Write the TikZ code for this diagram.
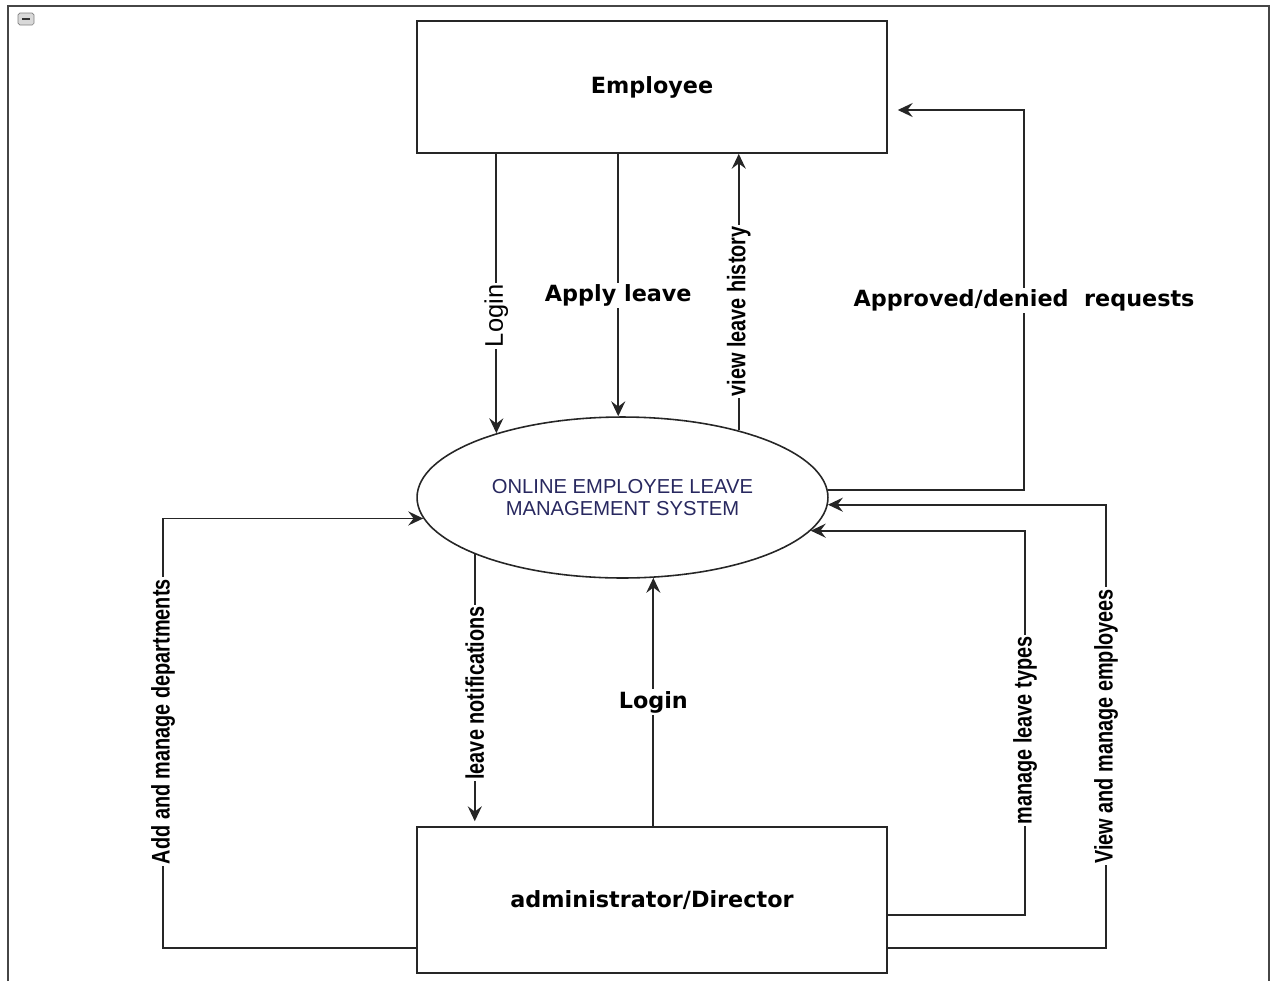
\documentclass[tikz,border=0pt]{standalone}
\usepackage{fontspec}
\setmainfont{Liberation Sans}
\newfontfamily\lblfont{DejaVu Sans}
\newfontfamily\narrowfont[FakeStretch=0.78]{Liberation Sans}
\usepackage{tikz}
\usetikzlibrary{arrows.meta,shapes.geometric}
\definecolor{systext}{RGB}{40,40,95}
\definecolor{framegray}{RGB}{70,70,70}

\begin{document}
\begin{tikzpicture}[x=0.02cm, y=-0.02cm,
    flow/.style={draw=black!85, line width=1pt, -{Stealth[length=8.5pt,width=8pt,inset=3pt]}},
    entity/.style={draw=black!85, line width=0.9pt, minimum width=9.4cm, inner sep=0pt,
        font=\lblfont\bfseries\fontsize{12.7}{15}\selectfont},
    hlbl/.style={fill=white, inner sep=1pt, font=\lblfont\bfseries\fontsize{12.7}{15}\selectfont},
    vlbl/.style={fill=white, inner sep=1pt, rotate=90, font=\narrowfont\bfseries\fontsize{14.5}{16}\selectfont}]
		%%%%% START %%%%%
		\useasboundingbox (0,0) rectangle (1271,981);
		\draw[framegray, line width=1.2pt] (8,981) -- (8,6) -- (1269,6) -- (1269,981);
		\draw[gray, fill=gray!30, rounded corners=1pt] (18,13) rectangle (34,25);
		\draw[black!80, line width=1.2pt] (22,19) -- (30,19);
		
		\node[entity, minimum height=2.64cm] (emp) at (652,87) {Employee};
		\node[entity, minimum height=2.92cm] (adm) at (652,900) {administrator/Director};
		\node[ellipse, draw=black!85, line width=0.9pt, minimum width=8.22cm, minimum height=3.22cm,
		      inner sep=0pt, align=center, text=systext, font=\fontsize{11.5}{12.6}\selectfont]
		      (sys) at (622.5,497.5) {ONLINE EMPLOYEE LEAVE\\MANAGEMENT SYSTEM};
		
		\coordinate (apr) at (1024,110);
		\coordinate (vme) at (1106,948);
		\coordinate (mlt) at (1025,915);
		\coordinate (adc) at (163,948);
		
		\draw[flow] (emp.south -| sys.153.67) -- node[pos=0.58, fill=white, inner sep=1pt, rotate=90,
		      font=\fontsize{14.5}{16}\selectfont] {Login} (sys.153.67);
		\draw[flow] (emp.south -| sys.93.9) -- node[hlbl, pos=0.54] {Apply leave} (sys.93.9);
		\draw[flow] (sys.30.93) -- node[vlbl, pos=0.43] {view leave history} (sys.30.93 |- emp.south);
		\draw[flow, shorten >=0.2cm] (sys.2.09) -- (sys.2.09 -| apr)
		      -- node[hlbl] {Approved/denied~~requests} (apr) -- (emp.east |- apr);
		
		\draw[flow] (adm.east |- vme) -- (vme)
		      -- node[vlbl] {View and manage employees} (vme |- sys.-2.09) -- (sys.-2.09);
		\draw[flow] (adm.east |- mlt) -- (mlt)
		      -- node[vlbl, pos=0.48] {manage leave types} (mlt |- sys.-10.16) -- (sys.-10.16);
		\draw[flow] (adm.north -| sys.-69.68) -- node[hlbl] {Login} (sys.-69.68);
		\draw[flow, shorten >=0.1cm] (sys.201.34) -- node[vlbl, pos=0.51] {leave notifications} (sys.201.34 |- adm.north);
		\draw[flow] (adm.west |- adc) -- (adc)
		      -- node[vlbl, pos=0.527] {Add and manage departments} (adc |- sys.186.19) -- (sys.186.19);
		%%%%% END %%%%%
\end{tikzpicture}
\end{document}
